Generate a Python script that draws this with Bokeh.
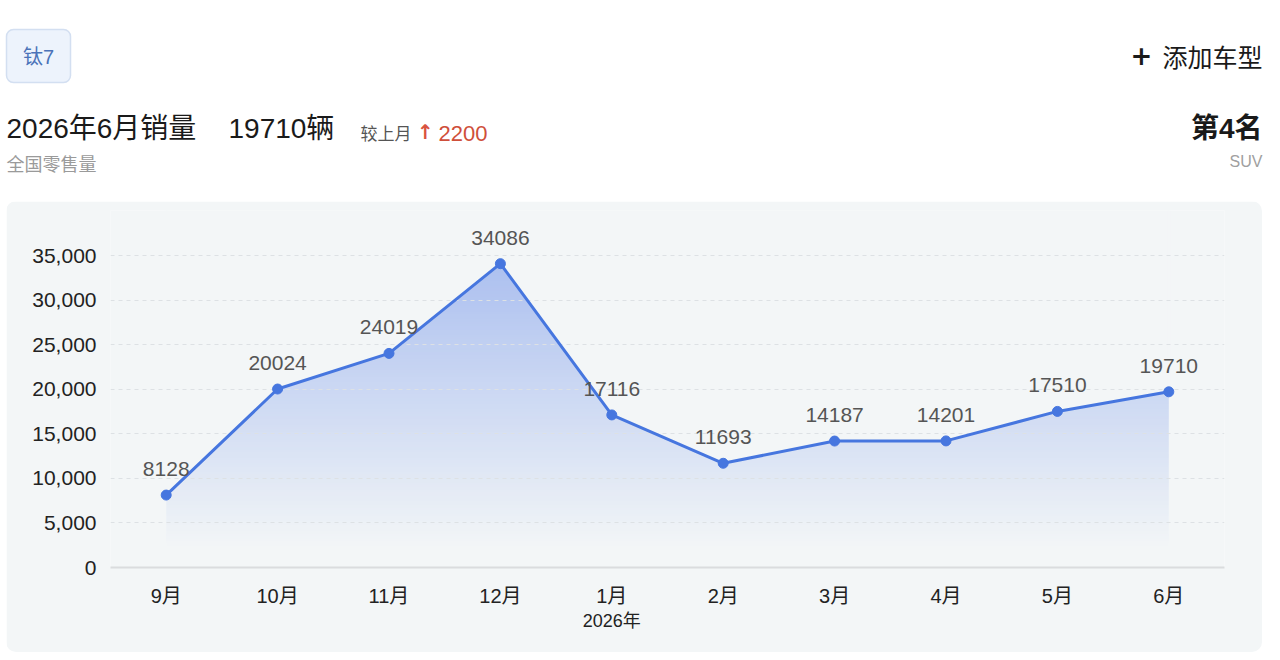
import numpy as np
from bokeh.plotting import figure
from bokeh.models import (Range1d, FixedTicker, NumeralTickFormatter, LinearAxis, Spacer)
from bokeh.layouts import column, row
from bokeh.core.properties import value
from bokeh.embed import file_html
from bokeh.resources import INLINE

# ---------------- data ----------------
months = ["9月", "10月", "11月", "12月", "1月", "2月", "3月", "4月", "5月", "6月"]
sales = [8128, 20024, 24019, 34086, 17116, 11693, 14187, 14201, 17510, 19710]
y_ticks = [0, 5000, 10000, 15000, 20000, 25000, 30000, 35000]
year_label = "2026年"
model_name = "钛7"
headline = "2026年6月销量"
headline_value = "19710辆"
mom_label = "较上月"
mom_value = "2200"
scope_label = "全国零售量"
rank_label = "第4名"
segment_label = "SUV"
add_label = "添加车型"

FONT = "Liberation Sans, Noto Sans CJK SC"
CJK = "Noto Sans CJK SC"
PANEL = "#f3f6f7"
BLUE = "#4676df"

# ---------------- header ----------------
h = figure(width=1280, height=201, x_range=Range1d(0, 1280), y_range=Range1d(201, 0),
           x_axis_type=None, y_axis_type=None, toolbar_location=None,
           output_backend="svg", min_border=0, outline_line_color=None,
           background_fill_color="white", border_fill_color="white")
h.grid.visible = False

h.quad(left=[6], right=[70], top=[29], bottom=[82], fill_color="#edf3fc",
       line_color="#d3dff1", line_width=1.5, border_radius=7)
h.text(x=[38], y=[56], text=[model_name], text_align="center", text_baseline="middle",
       text_font=value(FONT), text_font_size="20px", text_color="#4a72b8")

h.text(x=[6], y=[128], text=[headline], text_align="left", text_baseline="middle",
       text_font=value(FONT), text_font_size="28px", text_color="#1a1a1a")
h.text(x=[228], y=[128], text=[headline_value], text_align="left", text_baseline="middle",
       text_font=value(FONT), text_font_size="28px", text_color="#1a1a1a")
h.text(x=[360], y=[134], text=[mom_label], text_align="left", text_baseline="middle",
       text_font=value(FONT), text_font_size="17px", text_color="#555555")
h.text(x=[425], y=[131], text=["↑"], text_align="center", text_baseline="middle",
       text_font=value("DejaVu Sans"), text_font_size="20px", text_color="#d9533f",
       text_font_style="bold")
h.text(x=[438], y=[133], text=[mom_value], text_align="left", text_baseline="middle",
       text_font=value(FONT), text_font_size="22px", text_color="#cf4f3a")
h.text(x=[6], y=[164], text=[scope_label], text_align="left", text_baseline="middle",
       text_font=value(FONT), text_font_size="18px", text_color="#9a9a9a")

h.text(x=[1141], y=[54], text=["+"], text_align="center", text_baseline="middle",
       text_font=value("DejaVu Sans"), text_font_size="26px", text_color="#1a1a1a",
       text_font_style="bold")
h.text(x=[1262], y=[55], text=[add_label], text_align="right", text_baseline="middle",
       text_font=value(CJK), text_font_size="25px", text_color="#1a1a1a")
h.text(x=[1262], y=[128], text=[rank_label], text_align="right", text_baseline="middle",
       text_font=value(FONT), text_font_size="28px", text_color="#1a1a1a",
       text_font_style="bold")
h.text(x=[1262], y=[161], text=[segment_label], text_align="right", text_baseline="middle",
       text_font=value(FONT), text_font_size="16px", text_color="#a0a0a0")

# ---------------- chart ----------------
idx = list(range(len(months)))
y_top = 40050
p = figure(width=1256, height=451, x_range=Range1d(-0.5, len(months) - 0.5),
           y_range=Range1d(0, y_top), toolbar_location=None, output_backend="svg",
           min_border_left=104, min_border_right=38, min_border_top=9, min_border_bottom=85,
           background_fill_color=PANEL, border_fill_color=PANEL, outline_line_color=None,
           styles={"border-radius": "10px", "overflow": "hidden"})

# gradient area: image under the curve, masked above it
ymax = max(sales)
n = 256
t = np.linspace(0, 1, n)
yy = t * ymax
alpha = np.clip((yy - 2000) / (ymax - 2000), 0, 1) * 0.44
img = np.zeros((n, 2), dtype=np.uint32)
view = img.view(dtype=np.uint8).reshape((n, 2, 4))
view[:, :, 0] = 80
view[:, :, 1] = 122
view[:, :, 2] = 230
view[:, :, 3] = (alpha * 255).astype(np.uint8)[:, None]
p.image_rgba(image=[img], x=0, y=0, dw=len(months) - 1, dh=ymax, level="image")
p.varea(x=idx, y1=sales, y2=[y_top] * len(idx), fill_color=PANEL, level="image")
p.segment(x0=[idx[0], idx[-1]], y0=[sales[0], sales[-1]], x1=[idx[0], idx[-1]],
          y1=[y_top, y_top], line_color=PANEL, line_width=3, level="image")

p.line(idx, sales, line_color=BLUE, line_width=3)
p.scatter(idx, sales, size=10, fill_color=BLUE, line_color=BLUE)
p.text(x=idx, y=sales, text=[str(v) for v in sales], text_align="center",
       text_baseline="bottom", y_offset=-19, text_font=value(FONT),
       text_font_size="21px", text_color="#555555")

# axes
p.xaxis.ticker = FixedTicker(ticks=idx)
p.xaxis.major_label_overrides = {i: m for i, m in enumerate(months)}
p.xaxis.axis_line_color = "#dadcde"
p.xaxis.axis_line_width = 2
p.xaxis.major_tick_line_color = None
p.xaxis.minor_tick_line_color = None
p.xaxis.major_tick_out = 0
p.xaxis.major_tick_in = 0
p.xaxis.major_label_standoff = 17
p.xaxis.major_label_text_font = FONT
p.xaxis.major_label_text_font_size = "20px"
p.xaxis.major_label_text_color = "#222222"

# secondary axis carrying the year under "1月"
year_axis = LinearAxis(ticker=FixedTicker(ticks=[months.index("1月")]),
                       major_label_overrides={months.index("1月"): year_label},
                       axis_line_color=None, major_tick_line_color=None,
                       minor_tick_line_color=None, major_tick_out=0, major_tick_in=0,
                       major_label_standoff=1, major_label_text_font=FONT,
                       major_label_text_font_size="18px", major_label_text_color="#222222")
p.add_layout(year_axis, "below")

p.yaxis.ticker = FixedTicker(ticks=y_ticks)
p.yaxis.formatter = NumeralTickFormatter(format="0,0")
p.yaxis.axis_line_color = None
p.yaxis.major_tick_line_color = None
p.yaxis.minor_tick_line_color = None
p.yaxis.major_tick_out = 0
p.yaxis.major_tick_in = 0
p.yaxis.major_label_standoff = 14
p.yaxis.major_label_text_font = FONT
p.yaxis.major_label_text_font_size = "21px"
p.yaxis.major_label_text_color = "#222222"

p.xgrid.grid_line_color = None
p.ygrid.ticker = FixedTicker(ticks=y_ticks)
p.ygrid.grid_line_color = "#dde1e4"
p.ygrid.grid_line_dash = "4 4"
p.ygrid.grid_line_width = 1

layout = column(h, row(Spacer(width=6, height=451), p), spacing=0)
open("out.html", "w").write(file_html(layout, INLINE))
